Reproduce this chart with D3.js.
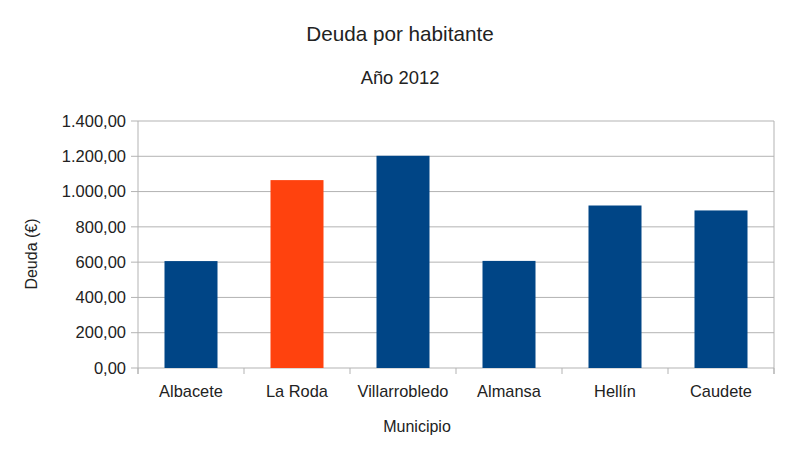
<!DOCTYPE html>
<html>
<head>
<meta charset="utf-8">
<script src="https://cdn.jsdelivr.net/npm/d3@7"></script>
<style>
  body { margin: 0; background: #fff; }
  text { font-family: "Liberation Sans", Arial, sans-serif; fill: #222; }
</style>
</head>
<body>
<svg id="chart" width="800" height="452"></svg>
<script>
const municipios = ["Albacete", "La Roda", "Villarrobledo", "Almansa", "Hellín", "Caudete"];
const deuda = [606, 1065, 1203, 607, 921, 893];
const colores = ["#004586", "#ff420e", "#004586", "#004586", "#004586", "#004586"];
const yTicks = [0, 200, 400, 600, 800, 1000, 1200, 1400];

const svg = d3.select("#chart");
const margin = { left: 138, right: 26, top: 121, bottom: 84 };
const width = 800 - margin.left - margin.right;
const height = 452 - margin.top - margin.bottom;

const fmt = d3.formatLocale({ decimal: ",", thousands: ".", grouping: [3], currency: ["", "€"] }).format(",.2f");

const x = d3.scaleBand().domain(municipios).range([0, width]).paddingInner(0.5).paddingOuter(0.25);
const y = d3.scaleLinear().domain([0, 1400]).range([height, 0]);

const g = svg.append("g").attr("transform", `translate(${margin.left},${margin.top})`);

// gridlines
g.append("g")
  .selectAll("line")
  .data(yTicks)
  .join("line")
  .attr("x1", -7).attr("x2", width)
  .attr("y1", d => y(d)).attr("y2", d => y(d))
  .attr("stroke", "#b3b3b3");

// right border line
g.append("line")
  .attr("x1", width).attr("x2", width)
  .attr("y1", 0).attr("y2", height + 6)
  .attr("stroke", "#b3b3b3");

// y axis line
g.append("line")
  .attr("x1", 0).attr("x2", 0)
  .attr("y1", 0).attr("y2", height + 6)
  .attr("stroke", "#b3b3b3");

// x ticks at category boundaries
const step = x.step();
g.append("g")
  .selectAll("line")
  .data(d3.range(municipios.length + 1))
  .join("line")
  .attr("x1", i => i * step).attr("x2", i => i * step)
  .attr("y1", height).attr("y2", height + 6)
  .attr("stroke", "#b3b3b3");

// bars
g.append("g")
  .selectAll("rect")
  .data(municipios)
  .join("rect")
  .attr("x", d => x(d))
  .attr("width", x.bandwidth())
  .attr("y", (d, i) => y(deuda[i]))
  .attr("height", (d, i) => height - y(deuda[i]))
  .attr("fill", (d, i) => colores[i]);

// y tick labels
g.append("g")
  .selectAll("text")
  .data(yTicks)
  .join("text")
  .attr("x", -12)
  .attr("y", d => y(d))
  .attr("dy", "0.35em")
  .attr("text-anchor", "end")
  .style("font-size", "16.5px")
  .text(d => fmt(d));

// x labels
g.append("g")
  .selectAll("text")
  .data(municipios)
  .join("text")
  .attr("x", d => x(d) + x.bandwidth() / 2)
  .attr("y", height + 29)
  .attr("text-anchor", "middle")
  .style("font-size", "16.4px")
  .text(d => d);

// titles
svg.append("text")
  .attr("x", 400).attr("y", 41)
  .attr("text-anchor", "middle")
  .style("font-size", "20.7px")
  .text("Deuda por habitante");

svg.append("text")
  .attr("x", 400).attr("y", 84)
  .attr("text-anchor", "middle")
  .style("font-size", "18.4px")
  .text("Año 2012");

svg.append("text")
  .attr("x", 417).attr("y", 432)
  .attr("text-anchor", "middle")
  .style("font-size", "16px")
  .text("Municipio");

svg.append("text")
  .attr("transform", "translate(37,254) rotate(-90)")
  .attr("text-anchor", "middle")
  .style("font-size", "16px")
  .text("Deuda (€)");
</script>
</body>
</html>
